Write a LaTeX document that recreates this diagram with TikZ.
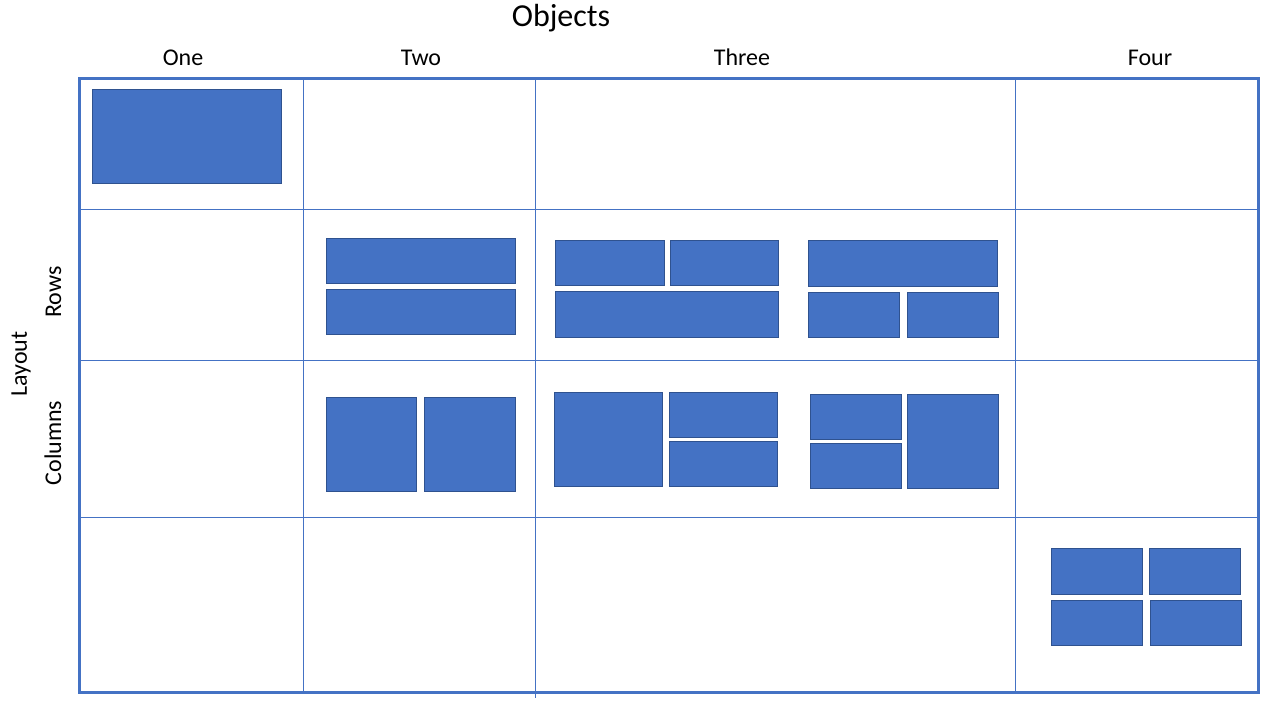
\documentclass[tikz,border=0pt]{standalone}
\usepackage{fontspec}
\setmainfont{Carlito}
\definecolor{tileblue}{HTML}{4472C4}
\definecolor{tileedge}{HTML}{2F528F}

\begin{document}
\begin{tikzpicture}[x=1pt, y=-1pt,
  every node/.style = {font=\fontsize{24}{29}\selectfont,
    inner sep=0pt, anchor=base},
  gridline/.style = {draw=tileblue, line width=1pt},
  frame/.style = {draw=tileblue, line width=3pt},
  tile/.style = {fill=tileblue, draw=tileedge, line width=1pt}]
  \useasboundingbox (0,0) rectangle (1280,720);
  % headings
  \node[font=\fontsize{32}{38}\selectfont] (objects) at (561,27) {Objects};
  \node (one) at (183,65) {One};
  \node (two) at (421,65) {Two};
  \node (three) at (742,65) {Three};
  \node (four) at (1150,65) {Four};
  \node[rotate=90] (layout) at (27,364) {Layout};
  \node[rotate=90] (rows) at (61,292) {Rows};
  \node[rotate=90] (columns) at (61,443) {Columns};
  % grid
  \foreach \x in {303,535,1015}
    \draw[gridline] (\x,78) -- (\x,692);
  \draw[gridline] (535,692) -- (535,698);
  \foreach \y in {209,360,517}
    \draw[gridline] (79,\y) -- (1258,\y);
  \draw[frame] (79,78) rectangle (1258,692);
  % tiles
  \foreach \a/\b/\c/\d in {92/89/281/183,
      326/238/515/283, 326/289/515/334,
      555/240/664/285, 670/240/778/285, 555/291/778/337,
      808/240/997/286, 808/292/899/337, 907/292/998/337,
      326/397/416/491, 424/397/515/491,
      554/392/662/486, 669/392/777/437, 669/441/777/486,
      810/394/901/439, 810/443/901/488, 907/394/998/488,
      1051/548/1142/594, 1149/548/1240/594,
      1051/600/1142/645, 1150/600/1241/645}
    \draw[tile] (\a,\b) rectangle (\c,\d);
\end{tikzpicture}
\end{document}
